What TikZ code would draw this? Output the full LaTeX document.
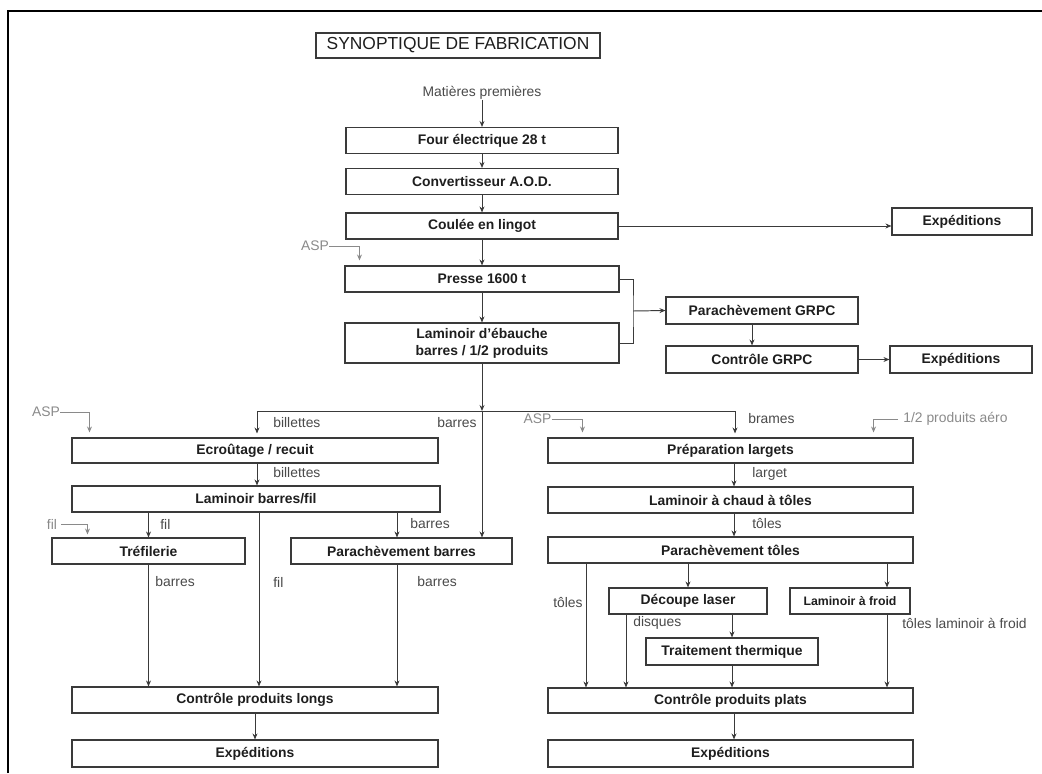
\documentclass[tikz,border=0pt]{standalone}
\usepackage{fontspec}
\setmainfont{Liberation Sans}
\usetikzlibrary{arrows.meta}
\usetikzlibrary{calc}
\definecolor{ligne}{HTML}{3A3A3A}
\definecolor{texte}{HTML}{1E1E1E}
\definecolor{etiq}{HTML}{4A4A4A}
\definecolor{apport}{HTML}{8A8A8A}

\begin{document}
\begin{tikzpicture}[
  x=0.2mm, y=-0.2mm,
  box/.style 2 args={
    rectangle,
    draw=ligne,
    line width=0.6pt,
    minimum width=#1*0.2mm,
    minimum height=#2*0.2mm,
    inner sep=0pt,
    align=center,
    text=texte,
    font=\fontsize{7.9}{9.5}\selectfont\bfseries},
  dep/.style ={
    -{Stealth[length=3.4pt,width=2.8pt]},draw=ligne,line width=0.55pt
  },
  lien/.style ={
    draw=ligne,line width=0.55pt
  },
  ext/.style ={
    -{Stealth[length=3.4pt,width=2.8pt]},draw=apport,line width=0.55pt
  },
  lbl/.style={
    inner sep=0pt, text=etiq, font=\fontsize{7.9}{9}\selectfont},
  extlbl/.style={
    inner sep=0pt, text=apport, font=\fontsize{7.9}{9}\selectfont},
]

  \def\colx{482}%
  \def\busy{411}%

  % Cadre
  \useasboundingbox (0,0) rectangle (1042,773);
  \draw[line width=1.7pt,black] (8,773) -- (8,11) -- (1042,11);

  % Titre
  \node[box={284}{25},font=\fontsize{9.9}{11}\selectfont] (titre)
      at (458,45.5) {SYNOPTIQUE DE FABRICATION};
  \node[lbl] (mat) at (\colx,93) {Matières premières};

  % Ligne principale
  \foreach \name/\txt/\y in {four/Four électrique 28 t/140.5,
      conv/Convertisseur A.O.D./181.5,
      coul/Coulée en lingot/226} {
    \node[box={272}{26}] (\name) at (\colx,\y) {\txt};
  }
  \node[box={274}{26}] (presse) at (\colx,279) {Presse 1600 t};
  \node[box={274}{40}] (lameb) at (\colx,343)
      {Laminoir d'ébauche\\barres / 1/2 produits};

  \draw[dep] (mat) -- (four);
  \foreach \start/\stop in {four/conv, conv/coul, coul/presse, presse/lameb}
    \draw[dep] (\start) -- (\stop);

  \node[extlbl] (asp1) at (315,246) {ASP};
  \draw[ext] (asp1.east) -| ($(presse.north west)+(15,-5)$);

  % Expeditions directes et GRPC
  \node[box={140}{27}] (exp1) at (962,221.5) {Expéditions};
  \draw[dep] (coul.east) -- (coul.east -| exp1.west);

  \node[box={192}{27}] (parg) at (762,310.5) {Parachèvement GRPC};
  \node[box={192}{27}] (ctrlg) at (762,359.5) {Contrôle GRPC};
  \node[box={142}{27}] (exp2) at (961,359.5) {Expéditions};
  \coordinate (brk) at (633,311);
  \coordinate (cg) at (752,0);
  \draw[lien] (presse.east) -| (brk) |- (lameb.east);
  \draw[dep] (brk) -- (parg.west);
  \draw[dep] (parg.south -| cg) -- (ctrlg.north -| cg);
  \draw[dep] (ctrlg) -- (exp2);

  % Repartition
  \coordinate (bus) at (\colx,\busy);
  \coordinate (busl) at (257,\busy);
  \coordinate (busr) at (735,\busy);
  \draw[dep] (lameb) -- (bus);
  \draw[lien] (busl) -- (busr);

  % Produits longs
  \node[box={366}{25}] (ecrout) at (255,450.5) {Ecroûtage / recuit};
  \node[box={368}{26}] (lambf) at (256,499) {Laminoir barres/fil};
  \node[box={193}{26}] (trefil) at (148.5,551) {Tréfilerie};
  \node[box={221}{26}] (parb) at (401.5,551) {Parachèvement barres};
  \node[box={366}{26}] (cpl) at (255,700) {Contrôle produits longs};
  \node[box={366}{27}] (expl) at (255,753.5) {Expéditions};

  \coordinate (cb) at (397,0);
  \coordinate (cf) at (259,0);
  \draw[dep,shorten >=0.8mm] (busl) -- (busl |- ecrout.north);
  \draw[dep] (bus) -- (bus |- parb.north);
  \draw[dep] (ecrout.south -| busl) -- (lambf.north -| busl);
  \draw[dep] (lambf.south -| trefil.north) -- (trefil.north);
  \draw[dep] (lambf.south -| cb) -- (parb.north -| cb);
  \draw[dep] (lambf.south -| cf) -- (cpl.north -| cf);
  \draw[dep] (trefil.south) -- (trefil.south |- cpl.north);
  \draw[dep] (parb.south -| cb) -- (cpl.north -| cb);
  \draw[dep] (cpl) -- (expl);

  \node[lbl,anchor=west] (lbil1) at (273,423) {billettes};
  \node[lbl,anchor=east] (lbar1) at (477,423) {barres};
  \node[lbl,anchor=west] (lbil2) at (273,473) {billettes};
  \node[lbl,anchor=west] (lfil1) at (160,524) {fil};
  \node[lbl,anchor=west] (lbar2) at (410,524) {barres};
  \node[lbl,anchor=west] (lbar3) at (155,582) {barres};
  \node[lbl,anchor=west] (lfil2) at (273,582) {fil};
  \node[lbl,anchor=west] (lbar4) at (417,582) {barres};

  \node[extlbl] (asp2) at (46,412) {ASP};
  \draw[ext] (asp2.east) -| ($(ecrout.north west)+(18,-5)$);
  \node[extlbl] (fil0) at (52,524) {fil};
  \draw[ext] ($(fil0.east)+(4,0)$) -| ($(trefil.north west)+(36,-3)$);

  % Produits plats
  \node[box={365}{25}] (prep) at (730.5,450.5) {Préparation largets};
  \node[box={365}{26}] (lamch) at (730.5,500) {Laminoir à chaud à tôles};
  \node[box={365}{26}] (partol) at (730.5,550) {Parachèvement tôles};
  \node[box={158}{26}] (decoup) at (688,601) {Découpe laser};
  \node[box={120}{26},font=\fontsize{7}{8.5}\selectfont\bfseries] (lamfr)
      at (850,601) {Laminoir à froid};
  \node[box={172}{27}] (trait) at (732,651.5) {Traitement thermique};
  \node[box={365}{25}] (cpp) at (730.5,700.5) {Contrôle produits plats};
  \node[box={365}{27}] (expr) at (730.5,753.5) {Expéditions};

  \coordinate (cr) at (734,0);
  \coordinate (ct) at (586,0);
  \coordinate (cd) at (626,0);
  \coordinate (cl) at (887,0);
  \draw[dep,shorten >=0.8mm] (busr) -- (busr |- prep.north);
  \draw[dep] (prep.south -| cr) -- (lamch.north -| cr);
  \draw[dep] (lamch.south -| cr) -- (partol.north -| cr);
  \draw[dep] (partol.south -| ct) -- (cpp.north -| ct);
  \draw[dep] (partol.south -| decoup.north) -- (decoup.north);
  \draw[dep] (partol.south -| cl) -- (lamfr.north -| cl);
  \draw[dep] (decoup.south -| cd) -- (cpp.north -| cd);
  \draw[dep] (decoup.south -| trait.north) -- (trait.north);
  \draw[dep] (trait.south) -- (trait.south |- cpp.north);
  \draw[dep] (lamfr.south -| cl) -- (cpp.north -| cl);
  \draw[dep] (cpp.south -| cr) -- (expr.north -| cr);

  \node[lbl,anchor=west] (lbram) at (748,419) {brames};
  \node[lbl,anchor=west] (llarg) at (752,474) {larget};
  \node[lbl,anchor=west] (ltol1) at (752,524) {tôles};
  \node[lbl,anchor=east] (ltol2) at (583,603) {tôles};
  \node[lbl,anchor=west] (ldisq) at (633,623) {disques};
  \node[lbl,anchor=west] (ltolf) at (902,623) {tôles laminoir à froid};

  \node[extlbl] (asp3) at (537.5,419) {ASP};
  \draw[ext] (asp3.east) -| ($(prep.north west)+(35,-5)$);
  \node[extlbl,anchor=west] (aero) at (903,419) {1/2 produits aéro};
  \draw[ext] ($(aero.west)+(-5,0)$) -| ($(prep.north east)+(-40,-5)$);

\end{tikzpicture}
\end{document}
